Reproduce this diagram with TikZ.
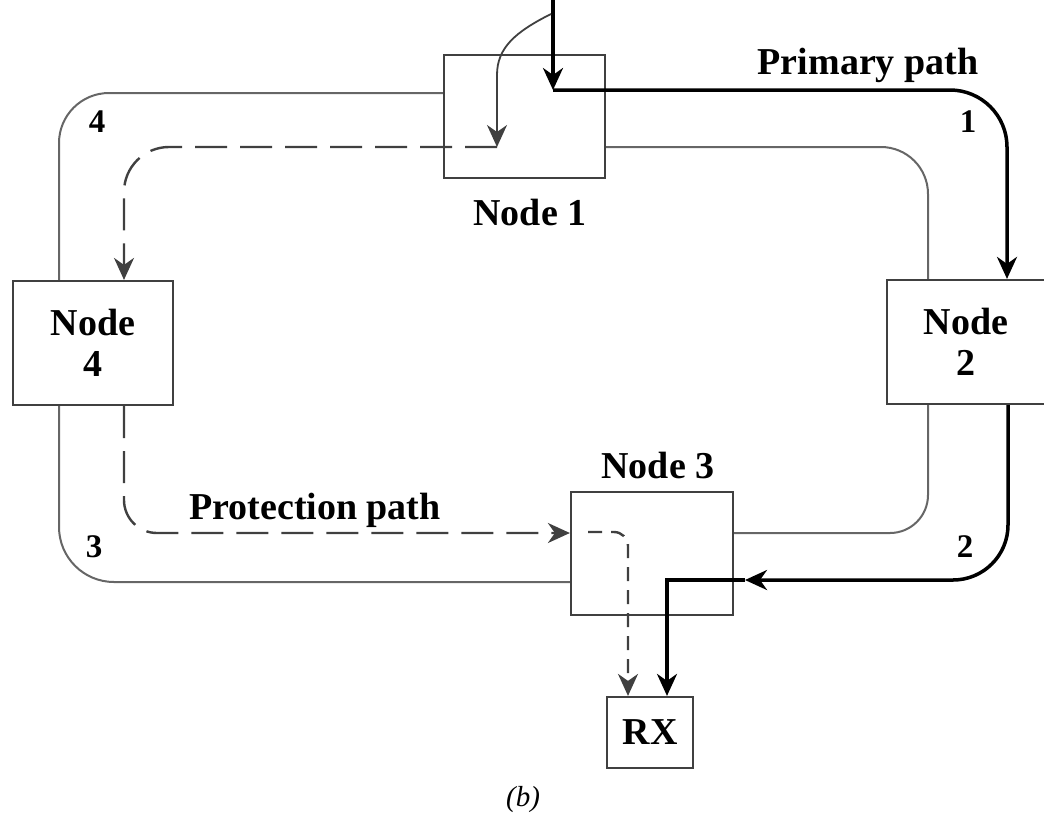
\documentclass[tikz,border=0pt]{standalone}
\usepackage{fontspec}
\setmainfont{Liberation Serif}
\usetikzlibrary{arrows.meta}
\begin{document}
\begin{tikzpicture}[x=1pt,y=-1pt,
  box/.style={draw=black!75, line width=2.2pt, inner sep=0pt, align=center,
    font=\fontsize{38}{41}\selectfont\bfseries},
  lbl/.style={inner sep=0pt, font=\fontsize{38}{41}\selectfont\bfseries},
  num/.style={inner sep=0pt, font=\fontsize{33}{36}\selectfont\bfseries},
  ring/.style={draw=black!60, line width=2pt},
  primary/.style={draw=black, line width=3.5pt},
  prot/.style={draw=black!75, line width=2.4pt, dash pattern=on 32pt off 13pt},
  thin/.style={draw=black!75, line width=1.8pt},
  tip/.style={-{Stealth[length=22pt,width=20pt,inset=7pt]}}]
\useasboundingbox (0,0) rectangle (1044,815);

% boxes
\node[box, minimum width=161pt, minimum height=123pt] (n1) at (524.5,116.5) {};
\node[box, minimum width=158pt, minimum height=124pt] (n2) at (966,342) {Node\\2};
\node[box, minimum width=162pt, minimum height=123pt] (n3) at (652,553.5) {};
\node[box, minimum width=160pt, minimum height=124pt] (n4) at (93,343) {Node\\4};
\node[box, minimum width=86pt, minimum height=71pt] (rx) at (650,732.5) {RX};

% labels
\node[lbl] (l1) at (530,212) {Node 1};
\node[lbl] (l3) at (658,465) {Node 3};
\node[lbl] (lp) at (868,65) {Primary path};
\node[lbl] (lq) at (315,510) {Protection path};
\node[num] (k1) at (968,122) {1};
\node[num] (k2) at (965,547) {2};
\node[num] (k3) at (94,547) {3};
\node[num] (k4) at (97,122) {4};
\node[inner sep=0pt, font=\fontsize{29}{32}\selectfont\itshape] (cap) at (523,800) {(b)};

% ring fibres
\draw[ring, rounded corners=50pt] (n1.west |- 0,93) -- (59,93) -- (n4.north -| 59,0);
\draw[ring, rounded corners=55pt] (n4.south -| 59,0) -- (59,582) -- (n3.west |- 0,582);
\draw[ring, rounded corners=38pt] (n3.east |- 0,533) -- (928,533) -- (n2.south -| 928,0);
\draw[ring, rounded corners=47pt] (n2.north -| 928,0) -- (928,147) -- (n1.east |- 0,147);

% primary path
\coordinate (src) at (553,0);
\coordinate (split) at (551,14);
\draw[primary, tip] (src) -- (553,90);
\draw[primary, tip, rounded corners=57pt] (553,90) -- (1007,90) -- (n2.north -| 1007,0);
\draw[primary, tip, rounded corners=55pt] (n2.south -| 1008,0) -- (1008,580) -- (745,580);
\draw[primary, tip] (745,580) -- (667,580) -- (rx.north -| 667,0);

% protection path
\draw[thin, tip] (split) .. controls (515,32) and (497,48) .. (497,75) -- (497,147);
\draw[prot, tip, rounded corners=45pt] (497,147) -- (124,147) -- (n4.north -| 124,0);
\draw[prot, tip, rounded corners=33pt] (n4.south -| 124,0) -- (124,533) -- (n3.west |- 0,533);
\draw[prot, tip, rounded corners=14pt, dash pattern=on 14pt off 9pt] (588,532) -- (628,532) -- (rx.north -| 628,0);
\end{tikzpicture}
\end{document}
